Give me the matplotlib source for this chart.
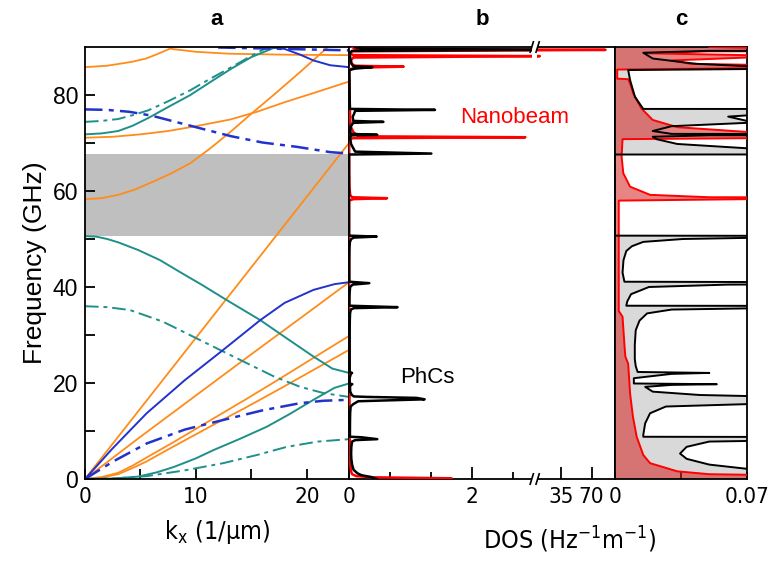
import numpy as np
import matplotlib
matplotlib.use("Agg")
import matplotlib.pyplot as plt
from matplotlib import font_manager as fm
from matplotlib.ticker import FixedLocator, FixedFormatter, NullFormatter
from matplotlib.patches import Rectangle

# ---------------- data: panel a (dispersion, k in 1/um, f in GHz) ----------------
K_MAX = 23.8
gap_band = [50.6, 67.8]

# orange (nanobeam) bands
o1_k = [0, 23.8];                         o1_f = [0, 70.0]
o2_k = [0, 5, 10, 15, 20, 23.8];          o2_f = [0, 8.8, 17.4, 26.0, 34.5, 41.0]
o3_k = [0, 1.5, 3, 4.3, 5.5, 8, 11.5, 14.5, 17.5, 20.5, 23.8]
o3_f = [0, 0.4, 1.3, 2.8, 4.4, 7.7, 12.5, 16.6, 20.8, 25.1, 29.8]
o4_k = [0, 1.5, 3, 4.3, 5.5, 8, 11.5, 14.5, 17.5, 20.5, 23.8]
o4_f = [0, 0.3, 1.0, 2.3, 3.6, 6.8, 11.2, 14.9, 18.7, 22.6, 26.9]
o5_k = [0, 1.5, 3, 4.5, 6, 7.8, 9.5, 11.3, 13.1, 15, 17, 19.5, 21.9]
o5_f = [58.3, 58.5, 59.2, 60.3, 61.8, 63.7, 65.8, 68.9, 72.3, 76.1, 80.0, 85.0, 90.0]
o6_k = [0, 2.5, 5, 7.5, 10, 13.1, 15.5, 18, 21, 23.8]
o6_f = [71.1, 71.3, 71.8, 72.5, 73.5, 74.9, 76.5, 78.5, 80.7, 82.8]
o7_k = [0, 2, 4.2, 5.5, 6.5, 7.8];        o7_f = [85.8, 86.1, 86.9, 87.6, 88.5, 89.8]
o8_k = [7.8, 10, 13, 18, 23.8];           o8_f = [89.6, 89.0, 88.6, 88.4, 88.3]

# blue solid bands
b1_k = [0, 2.5, 5.56, 9, 12.46, 15.8, 18, 20.6, 22.5, 23.8]
b1_f = [0, 6.4, 13.7, 20.6, 26.9, 33.1, 36.7, 39.4, 40.6, 41.0]
b2_k = [16.5, 18, 19.4, 20.6, 22.1, 23.8]
b2_f = [90.0, 89.6, 88.4, 87.2, 86.2, 85.8]

# blue dash-dot bands
bd1_k = [0, 2.5, 5.56, 9, 12.46, 16, 19.4, 21.5, 23.8]
bd1_f = [0, 3.6, 7.4, 10.3, 12.3, 14.3, 15.8, 16.3, 16.5]
bd2_k = [0, 2, 4, 6, 8, 10.5, 13.2, 16, 19.1, 22.1, 23.8]
bd2_f = [77.0, 76.9, 76.5, 75.7, 74.5, 73.0, 71.4, 70.1, 69.2, 68.1, 67.8]
bd3_k = [12, 18, 23.8];                    bd3_f = [89.9, 89.6, 89.3]

# teal solid bands
t1_k = [0, 2.5, 4.8, 6.5, 8, 10, 11.56, 14, 16.4, 18.5, 20.6, 22.5, 23.8]
t1_f = [0, 0.1, 0.5, 1.4, 2.5, 4.3, 6.0, 8.4, 10.9, 13.6, 16.5, 19.0, 19.9]
t2_k = [0, 1, 2, 3, 4.8, 6.76, 8.5, 10.5, 12.76, 15.8, 18, 20.6, 22.3, 23.8]
t2_f = [50.6, 50.5, 50.0, 49.3, 47.7, 45.6, 43.2, 40.5, 37.3, 33.1, 29.6, 25.5, 23.0, 22.1]
t3_k = [0, 1.5, 3, 4.3, 5.7, 7.5, 9.5, 11.3, 13.2, 15, 16.9, 17.3]
t3_f = [71.8, 72.0, 72.5, 73.6, 75.2, 77.5, 80.0, 82.7, 85.5, 87.9, 89.7, 90.0]

# teal dash-dot bands
td1_k = [0, 3, 5.56, 9, 12.46, 15.5, 18.2, 21, 23.8]
td1_f = [0, 0.15, 0.6, 1.8, 3.3, 5.0, 6.7, 7.8, 8.3]
td2_k = [0, 2, 4.05, 7, 10.06, 14, 17, 19.4, 21.5, 23.8]
td2_f = [36.0, 35.8, 35.2, 32.8, 29.3, 24.8, 21.4, 19.2, 17.9, 17.1]
td3_k = [0, 1.5, 3, 4.3, 5.7, 7.5, 9.5, 11.3, 13.2, 14.8, 16.5]
td3_f = [74.4, 74.6, 75.0, 75.8, 76.8, 78.7, 81.0, 83.4, 85.8, 87.9, 90.0]

# ---------------- data: panels b, c (DOS) ----------------
phc_f = [0.0, 0.4, 0.8, 1.2, 1.9, 3.0, 4.2, 5.3, 6.7, 7.8, 8.1, 8.3, 8.7, 8.8,
         9.2, 11.6, 13.7, 15.1, 15.6, 16.2, 16.6, 16.9, 17.1, 17.2, 17.5, 18.2,
         19.2, 19.6, 19.75, 19.9, 21.0, 21.9, 22.1, 22.3, 23.5, 25.0, 28.0, 31.0,
         33.0, 34.5, 35.3, 35.6, 35.8, 36.1, 37.0, 38.5, 40.0, 40.5, 40.8, 41.1,
         43.0, 45.6, 47.5, 48.5, 49.4, 50.0, 50.3, 50.5, 50.7, 67.6, 67.8, 68.2,
         68.9, 69.8, 70.8, 71.3, 71.6, 71.7, 71.9, 72.5, 73.5, 74.2, 74.4, 74.6,
         75.5, 76.0, 76.7, 76.9, 77.1, 79.6, 83.1, 85.2, 85.5, 85.8, 86.0, 86.5,
         87.6, 88.8, 89.2, 89.4, 89.7, 90.0]
phc_dos = [0.45, 0.36, 0.20, 0.136, 0.075, 0.050, 0.038, 0.0345, 0.038, 0.050, 0.10, 0.46, 0.20, 0.015,
           0.015, 0.016, 0.0186, 0.027, 0.07, 0.15, 1.23, 1.10, 0.30, 0.08, 0.045, 0.02,
           0.016, 0.03, 0.054, 0.010, 0.010, 0.03, 0.05, 0.012, 0.011, 0.0105, 0.0105, 0.011,
           0.013, 0.017, 0.03, 0.08, 0.79, 0.006, 0.0065, 0.0085, 0.018, 0.06, 0.33, 0.005,
           0.004, 0.0045, 0.006, 0.009, 0.015, 0.036, 0.08, 0.45, 0.0, 0.0, 1.34, 0.10,
           0.07, 0.033, 0.022, 0.02, 0.05, 0.46, 0.03, 0.02, 0.03, 0.07, 0.56, 0.07,
           0.06, 0.08, 0.10, 1.40, 0.015, 0.0106, 0.008, 0.007, 0.10, 0.38, 0.07, 0.043,
           0.02, 0.015, 0.05, 2.98, 0.2, 0.1]

nb_f = [0.0, 0.15, 0.35, 0.6, 1.0, 1.6, 3.3, 5.0, 8.8, 13.0, 17.8, 24.0, 25.5, 28.0, 33.8,
        35.0, 58.0, 58.3, 58.5, 58.7, 59.2, 60.9, 63.7, 67.2, 70.8, 71.0, 71.2, 71.4,
        72.3, 73.3, 74.8, 77.2, 80.3, 82.4, 83.3, 83.4, 85.3, 85.7, 85.9, 86.1, 86.5,
        87.2, 87.8, 88.1, 88.3, 88.7, 89.1, 89.4, 89.6, 90.0]
nb_dos = [1.67, 1.67, 0.4, 0.12, 0.05, 0.033, 0.0186, 0.015, 0.0115, 0.0095, 0.008, 0.007, 0.0055, 0.005, 0.004,
          0.002, 0.002, 0.07, 0.62, 0.05, 0.0186, 0.008, 0.0044, 0.0035, 0.004, 0.07, 2.87, 0.15,
          0.07, 0.033, 0.02, 0.014, 0.0097, 0.008, 0.007, 0.0012, 0.0012, 0.1, 0.89, 0.1, 0.04,
          0.03, 0.07, 10.0, 0.07, 0.016, 0.05, 86.0, 0.1, 0.05]

b_major = [0, 2, 35, 70]
b_major_labels = ["0", "2", "35", "70"]
b_minor = [2 / 3, 4 / 3, 8 / 3]
c_major = [0, 0.07]
c_major_labels = ["0", "0.07"]
c_minor = [0.035]

# ---------------- styling ----------------
ORANGE = "#ff8c1a"
TEAL = "#1f8f8a"
BLUE = "#2233cc"
DASHDOT = (0, (7, 2.5, 2, 2.5))
REG = ["Liberation Sans", "DejaVu Sans"]

# use a condensed sans face (Liberation Sans Narrow / DejaVu Sans Condensed) if present
narrow_file = None
for fe in fm.fontManager.ttflist:
    ok_name = fe.name in ("Liberation Sans Narrow", "Arial Narrow") or (
        fe.name == "DejaVu Sans" and str(fe.stretch) in ("condensed", "semi-condensed"))
    if ok_name and str(fe.weight) in ("400", "normal", "regular", "book") and fe.style == "normal":
        narrow_file = fe.fname
        break
if narrow_file:
    TICKP = fm.FontProperties(fname=narrow_file, size=16)
    LABP = fm.FontProperties(fname=narrow_file, size=18)
else:
    TICKP = fm.FontProperties(family=REG, size=15)
    LABP = fm.FontProperties(family=REG, size=17)

plt.rcParams["font.family"] = REG
plt.rcParams["axes.linewidth"] = 1.3

W, H = 769, 561
fig = plt.figure(figsize=(W / 100, H / 100), dpi=100)
bot = 1 - 479 / H
hgt = 432 / H
ax_a = fig.add_axes([85 / W, bot, 264 / W, hgt])
ax_b = fig.add_axes([349 / W, bot, 266 / W, hgt])
ax_c = fig.add_axes([615 / W, bot, 132 / W, hgt])

# ---- panel a ----
ax_a.axhspan(gap_band[0], gap_band[1], color="#bfbfbf", lw=0, zorder=0)
for k, f in [(o1_k, o1_f), (o2_k, o2_f), (o3_k, o3_f), (o4_k, o4_f),
             (o5_k, o5_f), (o6_k, o6_f), (o7_k, o7_f), (o8_k, o8_f)]:
    ax_a.plot(k, f, color=ORANGE, lw=1.3)
for k, f in [(t1_k, t1_f), (t2_k, t2_f), (t3_k, t3_f)]:
    ax_a.plot(k, f, color=TEAL, lw=1.4)
for k, f in [(td1_k, td1_f), (td2_k, td2_f), (td3_k, td3_f)]:
    ax_a.plot(k, f, color=TEAL, lw=1.4, ls=DASHDOT)
for k, f in [(b1_k, b1_f), (b2_k, b2_f)]:
    ax_a.plot(k, f, color=BLUE, lw=1.4)
for k, f in [(bd1_k, bd1_f), (bd2_k, bd2_f), (bd3_k, bd3_f)]:
    ax_a.plot(k, f, color=BLUE, lw=1.8, ls=DASHDOT)

ax_a.set_xlim(0, K_MAX)
ax_a.set_ylim(0, 90)
ax_a.xaxis.set_major_locator(FixedLocator([0, 10, 20]))
ax_a.xaxis.set_minor_locator(FixedLocator([5, 15]))
ax_a.yaxis.set_major_locator(FixedLocator([0, 20, 40, 60, 80]))
ax_a.yaxis.set_minor_locator(FixedLocator([10, 30, 50, 70]))
ax_a.tick_params(which="both", direction="in", length=7, width=1.3,
                 top=False, right=False)
ax_a.tick_params(axis="y", labelsize=16.5, pad=5)
ax_a.tick_params(axis="x", pad=6)
for lbl in ax_a.get_xticklabels():
    lbl.set_fontproperties(TICKP)
ax_a.set_ylabel("Frequency (GHz)", fontsize=19, labelpad=4)
ax_a.set_xlabel(r"k$_\mathregular{x}$ (1/μm)", fontproperties=LABP, labelpad=8)
ax_a.set_title("a", fontsize=16, fontweight="bold", pad=16)

# ---- panel b (broken DOS axis) ----
A_BRK, B_BRK = 3.03, 4.7
S2 = (30 / 35) / 61
EPS = 1e-3
P1 = A_BRK + (B_BRK - A_BRK) * EPS


def fwd(v):
    v = np.asarray(v, dtype=float)
    return np.where(v <= A_BRK, v,
                    np.where(v < B_BRK, A_BRK + (v - A_BRK) * EPS,
                             P1 + (v - B_BRK) * S2))


def inv(p):
    p = np.asarray(p, dtype=float)
    return np.where(p <= A_BRK, p,
                    np.where(p < P1, A_BRK + (p - A_BRK) / EPS,
                             B_BRK + (p - P1) / S2))


ax_b.set_xscale("function", functions=(fwd, inv))
ax_b.plot(nb_dos, nb_f, color="red", lw=1.8, zorder=3)
ax_b.plot(phc_dos, phc_f, color="black", lw=1.8, zorder=4)
ax_b.set_xlim(0, 97)
ax_b.set_ylim(0, 90)
ax_b.xaxis.set_major_locator(FixedLocator(b_major))
ax_b.xaxis.set_major_formatter(FixedFormatter(b_major_labels))
ax_b.xaxis.set_minor_locator(FixedLocator(b_minor))
ax_b.xaxis.set_minor_formatter(NullFormatter())
ax_b.tick_params(axis="x", which="major", direction="in", length=9, width=1.3,
                 pad=6, top=False)
ax_b.tick_params(axis="x", which="minor", direction="in", length=5, width=1.3, top=False)
ax_b.tick_params(axis="y", left=False, labelleft=False, right=False)
for lbl in ax_b.get_xticklabels():
    lbl.set_fontproperties(TICKP)
ax_b.set_title("b", fontsize=16, fontweight="bold", pad=16)
ax_b.text(0.417, 0.836, "Nanobeam", color="red", fontsize=16,
          transform=ax_b.transAxes, va="center", ha="left")
ax_b.text(0.192, 0.234, "PhCs", color="black", fontsize=16,
          transform=ax_b.transAxes, va="center", ha="left")

# break marks
xb = float((fwd(3.6) - fwd(0)) / (fwd(97) - fwd(0)))
for yb, h in [(-0.012, 0.03), (0.955, 0.06)]:
    ax_b.add_patch(Rectangle((xb - 0.012, yb), 0.02, h, transform=ax_b.transAxes,
                             facecolor="white", edgecolor="none", zorder=6, clip_on=False))
for yc in (0.0, 1.0):
    for dx in (-0.013, 0.009):
        ax_b.plot([xb + dx - 0.006, xb + dx + 0.006], [yc - 0.012, yc + 0.012],
                  color="black", lw=1.2, transform=ax_b.transAxes, clip_on=False, zorder=7)

# ---- panel c ----
ax_c.fill_betweenx(phc_f, 0, phc_dos, color="#d9d9d9", lw=0, zorder=1)
ax_c.fill_betweenx(nb_f, 0, nb_dos, color="#d42020", alpha=0.55, lw=0, zorder=2)
ax_c.plot(nb_dos, nb_f, color="red", lw=1.4, zorder=3)
ax_c.plot(phc_dos, phc_f, color="black", lw=1.4, zorder=4)
ax_c.set_xlim(0, 0.07)
ax_c.set_ylim(0, 90)
ax_c.xaxis.set_major_locator(FixedLocator(c_major))
ax_c.xaxis.set_major_formatter(FixedFormatter(c_major_labels))
ax_c.xaxis.set_minor_locator(FixedLocator(c_minor))
ax_c.tick_params(axis="x", which="both", direction="in", length=5, width=1.3,
                 pad=6, top=False)
ax_c.tick_params(axis="y", left=False, labelleft=False, right=False)
for lbl in ax_c.get_xticklabels():
    lbl.set_fontproperties(TICKP)
ax_c.set_title("c", fontsize=16, fontweight="bold", pad=16)

fig.text(570 / W, 1 - 540 / H, r"DOS (Hz$^{\mathregular{-1}}$m$^{\mathregular{-1}}$)",
         fontproperties=LABP, ha="center", va="center")

fig.savefig("out.png", dpi=100)
